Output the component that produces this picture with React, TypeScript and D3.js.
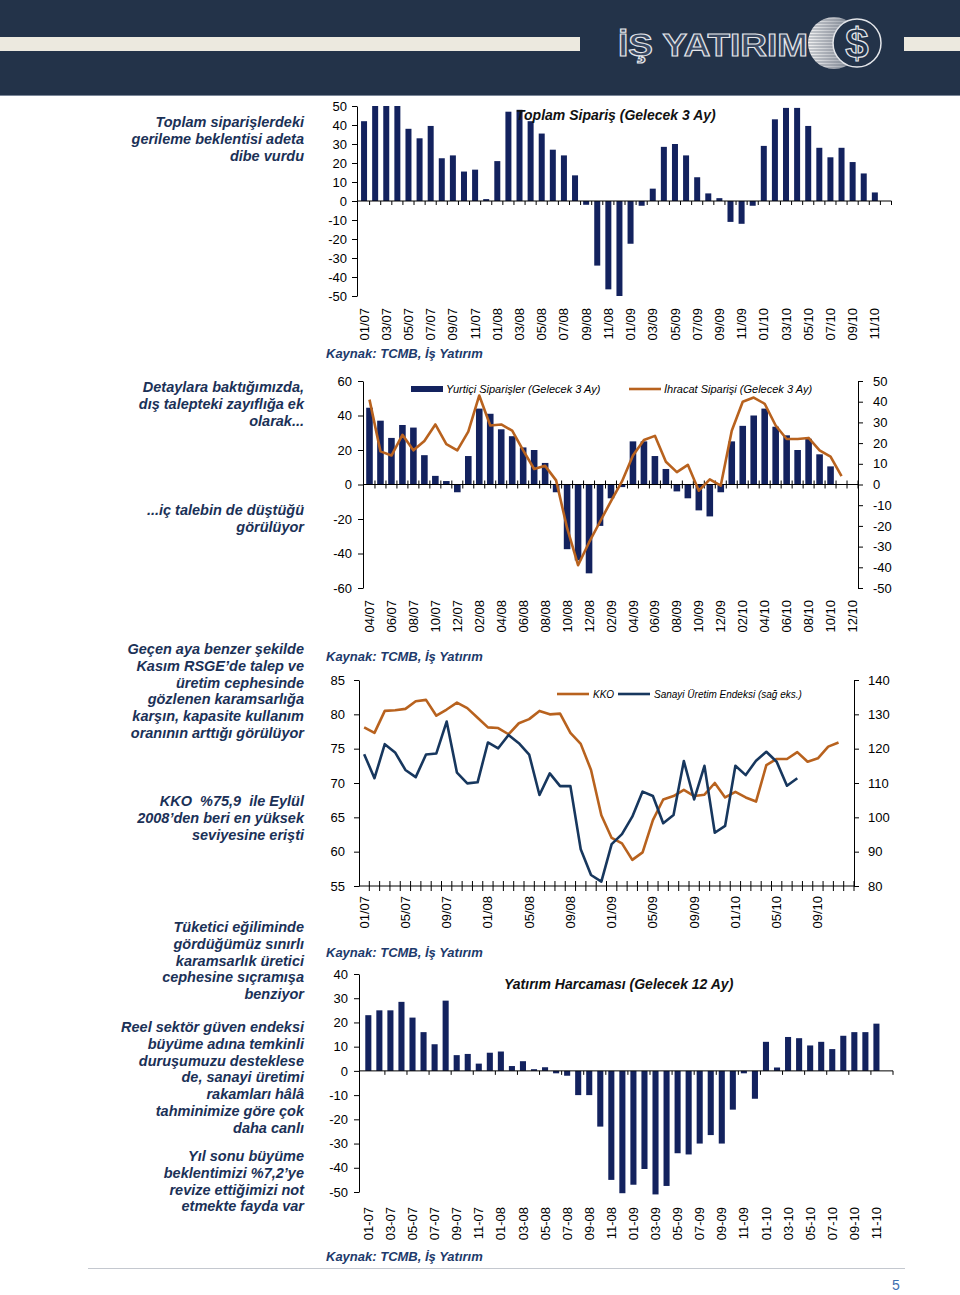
import React, { useRef, useEffect } from 'react';
import * as d3 from 'd3';

const FONT = 'Liberation Sans, Arial, Helvetica, sans-serif';

// month labels like 01/07 ... 12/10
function monthList(year: number, month: number, count: number, sep: string) {
  const out: string[] = [];
  for (let i = 0; i < count; i++) {
    const m = ((month - 1 + i) % 12) + 1;
    const y = year + Math.floor((month - 1 + i) / 12);
    out.push(`${String(m).padStart(2, '0')}${sep}${String(y % 100).padStart(2, '0')}`);
  }
  return out;
}

// Chart 1 - Toplam Sipariş (Gelecek 3 Ay)
const toplamMonths = monthList(2007, 1, 48, '/');
const toplamSiparis = [
  42, 50, 50, 50, 38, 33, 39.5, 22.5, 24, 15.5, 16.5, 1,
  21, 47, 48, 42, 35.5, 27, 24, 13.5, -2, -34, -46.5, -50.5,
  -22.5, -2.5, 6.5, 28.5, 30, 24, 12.5, 4, 1.5, -11, -12, -2.5,
  29, 43, 49, 49, 39.5, 28, 23, 28, 20.5, 14.5, 4.5,
];
const toplamTicks = [50, 40, 30, 20, 10, 0, -10, -20, -30, -40, -50];

// Chart 2 - Yurtiçi / İhracat siparişleri
const detayMonths = monthList(2007, 4, 45, '/');
const yurticiSiparis = [
  44.5, 37, 27, 34.5, 33, 17, 5, 2, -4.5,
  16.5, 44, 41, 32, 28, 21.5, 20, 12.5, -4.5, -37.5, -44, -51.5,
  -24, -8, -1.5, 25, 25, 16.5, 9, -4, -8, -15, -18.5, -4.5,
  25, 34, 40, 44, 33.5, 28.5, 20, 26.5, 17.5, 10.5,
];
const ihracatSiparis = [
  41, 16, 14, 24, 16.5, 21, 29, 19.5, 16.5,
  25.5, 43, 28.5, 29, 26, 16.5, 7.5, 9, 2, -21, -39, -28,
  -18, -8, 1.5, 14, 21.5, 23.5, 11, 6, 9.5, -3, 2.5, -0.5,
  26, 40, 42, 39, 28.5, 22, 22, 22.5, 16.5, 13.5, 4,
];
const yurticiTicks = [60, 40, 20, 0, -20, -40, -60];
const ihracatTicks = [50, 40, 30, 20, 10, 0, -10, -20, -30, -40, -50];

// Chart 3 - KKO & Sanayi Üretim Endeksi
const kkoMonths = monthList(2007, 1, 48, '/');
const kko = [
  78.1, 77.3, 80.5, 80.6, 80.8, 81.9, 82.1, 79.8, 80.7, 81.7, 80.9, 79.5,
  78.1, 78.0, 77.1, 78.7, 79.3, 80.5, 80.0, 80.1, 77.3, 75.7, 71.9, 65.3,
  62, 61.2, 58.8, 59.9, 64.6, 67.6, 68.1, 69, 68.1, 68.3, 70, 67.9,
  68.7, 67.9, 67.3, 72.6, 73.5, 73.5, 74.5, 73.1, 73.6, 75.3, 75.9,
];
const sanayiUretim = [
  118.4, 111.4, 121.3, 118.9, 113.8, 111.7, 118.3, 118.6, 127.9, 113, 109.9, 110.2,
  121.8, 120.1, 124, 121.6, 118.3, 106.5, 112.8, 109.1, 109.1, 90.7, 83.2, 81.3,
  92.2, 95.1, 100.2, 107.5, 106.2, 98.3, 100.7, 116.4, 105.2, 115, 95.5, 97.5,
  115, 112.3, 116.5, 119.1, 116.2, 109.2, 111.4,
];
const kkoTicks = [85, 80, 75, 70, 65, 60, 55];
const uretimTicks = [140, 130, 120, 110, 100, 90, 80];

// Chart 4 - Yatırım Harcaması (Gelecek 12 Ay)
const yatirimMonths = monthList(2007, 1, 48, '-');
const yatirimHarcamasi = [
  23, 25, 25, 28.5, 22, 16, 11, 29, 6.5, 7, 3, 7.5,
  8, 2, 4, 0.7, 1.5, -1, -2, -10, -10, -23, -45, -50.5,
  -47, -40.5, -51, -47.5, -34, -34.5, -30, -26.5, -30, -16, -1, -11.5,
  12, 1.4, 14, 13.5, 10.5, 12, 9, 14.5, 16, 16, 19.5,
];
const yatirimTicks = [40, 30, 20, 10, 0, -10, -20, -30, -40, -50];

// side notes
const notes = [
  ['Toplam siparişlerdeki', 'gerileme beklentisi adeta', 'dibe vurdu'],
  ['Detaylara baktığımızda,', 'dış talepteki zayıflığa ek', 'olarak...'],
  ['...iç talebin de düştüğü', 'görülüyor'],
  ['Geçen aya benzer şekilde', 'Kasım RSGE’de talep ve', 'üretim cephesinde', 'gözlenen karamsarlığa', 'karşın, kapasite kullanım', 'oranının arttığı görülüyor'],
  ['KKO  %75,9  ile Eylül', '2008’den beri en yüksek', 'seviyesine erişti'],
  ['Tüketici eğiliminde', 'gördüğümüz sınırlı', 'karamsarlık üretici', 'cephesine sıçramışa', 'benziyor'],
  ['Reel sektör güven endeksi', 'büyüme adına temkinli', 'duruşumuzu desteklese', 'de, sanayi üretimi', 'rakamları hâlâ', 'tahminimize göre çok', 'daha canlı'],
  ['Yıl sonu büyüme', 'beklentimizi %7,2’ye', 'revize ettiğimizi not', 'etmekte fayda var'],
];
const noteTop = [127, 392, 515, 654, 806, 932, 1032, 1161];

const BAR = '#13225e';
const ORANGE = '#b8621e';
const NAVY_LINE = '#17375e';
const NOTE = '#1b3157';
const SOURCE = '#1d3a6b';

const App: React.FC = () => {
  const svgRef = useRef<SVGSVGElement>(null);

  useEffect(() => {
    if (!svgRef.current) return;
    const svg = d3.select(svgRef.current);
    svg.selectAll('*').remove();

    // ---------- header ----------
    const defs = svg.append('defs');
    const grad = defs.append('linearGradient').attr('id', 'coin').attr('x1', 0).attr('x2', 1);
    grad.append('stop').attr('offset', '0%').attr('stop-color', '#f4f4f4');
    grad.append('stop').attr('offset', '100%').attr('stop-color', '#7d8593');
    defs.append('clipPath').attr('id', 'coinClip')
      .append('circle').attr('cx', 834).attr('cy', 43).attr('r', 26);

    svg.append('rect').attr('x', 0).attr('y', 0).attr('width', 960).attr('height', 95).attr('fill', '#233349');
    svg.append('line').attr('x1', 0).attr('x2', 960).attr('y1', 95.5).attr('y2', 95.5).attr('stroke', '#7a8698');
    svg.append('rect').attr('x', 0).attr('y', 37).attr('width', 580).attr('height', 14).attr('fill', '#ece9df');
    svg.append('rect').attr('x', 904).attr('y', 37).attr('width', 56).attr('height', 14).attr('fill', '#ece9df');
    svg.append('text')
      .attr('x', 618).attr('y', 56)
      .attr('font-family', FONT).attr('font-weight', 'bold').attr('font-size', 31)
      .attr('textLength', 190).attr('lengthAdjust', 'spacingAndGlyphs')
      .attr('fill', '#3a4961').attr('stroke', '#e4e6ea').attr('stroke-width', 1.1)
      .text('İŞ YATIRIM');
    svg.append('circle').attr('cx', 834).attr('cy', 43).attr('r', 26).attr('fill', 'url(#coin)');
    const stripes = svg.append('g').attr('clip-path', 'url(#coinClip)');
    stripes.selectAll('line').data(d3.range(17, 70, 3)).enter().append('line')
      .attr('x1', 806).attr('x2', 862).attr('y1', d => d).attr('y2', d => d)
      .attr('stroke', '#4f5968').attr('stroke-width', 1).attr('opacity', 0.55);
    svg.append('circle').attr('cx', 857).attr('cy', 43).attr('r', 24)
      .attr('fill', '#233349').attr('stroke', '#e4e6ea').attr('stroke-width', 1.5);
    svg.append('text').attr('x', 857).attr('y', 58).attr('text-anchor', 'middle')
      .attr('font-family', FONT).attr('font-weight', 'bold').attr('font-size', 42)
      .attr('fill', 'none').attr('stroke', '#e4e6ea').attr('stroke-width', 1.2).text('$');

    // ---------- side notes ----------
    notes.forEach((lines, i) => {
      svg.append('g').selectAll('text').data(lines).enter().append('text')
        .attr('x', 304).attr('y', (d, j) => noteTop[i] + j * 16.8)
        .attr('text-anchor', 'end')
        .attr('font-family', FONT).attr('font-size', 14.5)
        .attr('font-weight', 'bold').attr('font-style', 'italic')
        .style('white-space', 'pre')
        .attr('fill', NOTE).text(d => d);
    });

    // ---------- helpers ----------
    const styleAxis = (ax: any) => {
      ax.attr('font-family', FONT).attr('font-size', 13);
      ax.select('.domain').attr('stroke', '#000');
      ax.selectAll('.tick line').attr('stroke', '#000');
      ax.selectAll('.tick text').attr('fill', '#000');
    };
    const yAxis = (scale: any, x: number, ticks: number[], side: 'left' | 'right', pad: number) => {
      const axis = (side === 'left' ? d3.axisLeft(scale) : d3.axisRight(scale))
        .tickValues(ticks).tickFormat((d: any) => String(d))
        .tickSize(5).tickSizeOuter(0).tickPadding(pad);
      const ax = svg.append('g').attr('transform', `translate(${x},0)`).call(axis as any);
      styleAxis(ax);
    };
    const xLabels = (x: d3.ScaleBand<string>, cats: string[], every: number, top: number) => {
      svg.append('g').selectAll('text')
        .data(cats.filter((d, i) => i % every === 0))
        .enter().append('text')
        .attr('transform', d => `translate(${(x(d) as number) + x.bandwidth() / 2},${top}) rotate(-90)`)
        .attr('text-anchor', 'end').attr('dy', '0.35em')
        .attr('font-family', FONT).attr('font-size', 13).attr('fill', '#000')
        .text(d => d);
    };
    const zeroLine = (x: d3.ScaleBand<string>, x0: number, y: number, every: number, up: number, down: number) => {
      const [r0, r1] = x.range();
      svg.append('line').attr('x1', x0).attr('x2', r1).attr('y1', y).attr('y2', y).attr('stroke', '#000');
      const n = x.domain().length;
      svg.append('g').selectAll('line')
        .data(d3.range(every, n + 1, every))
        .enter().append('line')
        .attr('x1', j => r0 + x.step() * j).attr('x2', j => r0 + x.step() * j)
        .attr('y1', y - up).attr('y2', y + down)
        .attr('stroke', '#000');
    };
    const bars = (x: d3.ScaleBand<string>, y: d3.ScaleLinear<number, number>, cats: string[], vals: number[]) => {
      svg.append('g').selectAll('rect').data(vals).enter().append('rect')
        .attr('x', (d, i) => x(cats[i]) as number)
        .attr('width', x.bandwidth())
        .attr('y', d => y(Math.max(0, d)))
        .attr('height', d => Math.abs(y(d) - y(0)))
        .attr('fill', BAR);
    };
    const line = (x: d3.ScaleBand<string>, y: d3.ScaleLinear<number, number>, cats: string[], vals: number[], color: string) => {
      const gen = d3.line<number>()
        .x((d, i) => (x(cats[i]) as number) + x.bandwidth() / 2)
        .y(d => y(d));
      svg.append('path').datum(vals).attr('d', gen)
        .attr('fill', 'none').attr('stroke', color).attr('stroke-width', 2.6)
        .attr('stroke-linejoin', 'round');
    };
    const source = (y: number) => {
      svg.append('text').attr('x', 326).attr('y', y)
        .attr('font-family', FONT).attr('font-size', 13)
        .attr('font-weight', 'bold').attr('font-style', 'italic')
        .attr('fill', SOURCE).text('Kaynak: TCMB, İş Yatırım');
    };
    const title = (x: number, y: number, t: string) => {
      svg.append('text').attr('x', x).attr('y', y)
        .attr('font-family', FONT).attr('font-size', 14)
        .attr('font-weight', 'bold').attr('font-style', 'italic')
        .attr('fill', '#111').text(t);
    };

    // ---------- chart 1 ----------
    const x1 = d3.scaleBand().domain(toplamMonths).range([358.5, 891.5]).paddingInner(0.46).paddingOuter(0.23);
    const y1 = d3.scaleLinear().domain([-50, 50]).range([296, 106]).clamp(true);
    bars(x1, y1, toplamMonths, toplamSiparis);
    zeroLine(x1, 357, y1(0), 1, 0, 4);
    yAxis(y1, 357, toplamTicks, 'left', 5);
    xLabels(x1, toplamMonths, 2, 308);
    title(516, 120, 'Toplam Sipariş (Gelecek 3 Ay)');
    source(358);

    // ---------- chart 2 ----------
    const x2 = d3.scaleBand().domain(detayMonths).range([364, 858]).paddingInner(0.4).paddingOuter(0.2);
    const y2 = d3.scaleLinear().domain([-60, 60]).range([588, 381]);
    const y2r = d3.scaleLinear().domain([-50, 50]).range([588, 381]);
    bars(x2, y2, detayMonths, yurticiSiparis);
    zeroLine(x2, 363, y2(0), 1, 4, 4);
    line(x2, y2r, detayMonths, ihracatSiparis, ORANGE);
    yAxis(y2, 363, yurticiTicks, 'left', 6);
    yAxis(y2r, 858, ihracatTicks, 'right', 10);
    xLabels(x2, detayMonths, 2, 600);
    svg.append('rect').attr('x', 411).attr('y', 386).attr('width', 32).attr('height', 6).attr('fill', BAR);
    svg.append('text').attr('x', 446).attr('y', 393).attr('font-family', FONT).attr('font-size', 11)
      .attr('font-style', 'italic').attr('fill', '#000').text('Yurtiçi Siparişler (Gelecek 3 Ay)');
    svg.append('line').attr('x1', 629).attr('x2', 661).attr('y1', 389).attr('y2', 389)
      .attr('stroke', ORANGE).attr('stroke-width', 2.6);
    svg.append('text').attr('x', 664).attr('y', 393).attr('font-family', FONT).attr('font-size', 11)
      .attr('font-style', 'italic').attr('fill', '#000').text('İhracat Siparişi (Gelecek 3 Ay)');
    source(661);

    // ---------- chart 3 ----------
    const x3 = d3.scaleBand().domain(kkoMonths).range([359, 854]);
    const y3 = d3.scaleLinear().domain([55, 85]).range([886, 680]);
    const y3r = d3.scaleLinear().domain([80, 140]).range([886, 680]);
    line(x3, y3, kkoMonths, kko, ORANGE);
    line(x3, y3r, kkoMonths, sanayiUretim, NAVY_LINE);
    zeroLine(x3, 359, 886, 1, 5, 5);
    yAxis(y3, 359, kkoTicks, 'left', 9);
    yAxis(y3r, 854, uretimTicks, 'right', 9);
    xLabels(x3, kkoMonths, 4, 896);
    svg.append('line').attr('x1', 557).attr('x2', 589).attr('y1', 694).attr('y2', 694)
      .attr('stroke', ORANGE).attr('stroke-width', 2.6);
    svg.append('text').attr('x', 593).attr('y', 698).attr('font-family', FONT).attr('font-size', 10)
      .attr('font-style', 'italic').attr('fill', '#000').text('KKO');
    svg.append('line').attr('x1', 618).attr('x2', 650).attr('y1', 694).attr('y2', 694)
      .attr('stroke', NAVY_LINE).attr('stroke-width', 2.6);
    svg.append('text').attr('x', 654).attr('y', 698).attr('font-family', FONT).attr('font-size', 10)
      .attr('font-style', 'italic').attr('fill', '#000').text('Sanayi Üretim Endeksi (sağ eks.)');
    source(957);

    // ---------- chart 4 ----------
    const x4 = d3.scaleBand().domain(yatirimMonths).range([362.8, 893]).paddingInner(0.45).paddingOuter(0.225);
    const y4 = d3.scaleLinear().domain([-50, 40]).range([1192, 974]);
    bars(x4, y4, yatirimMonths, yatirimHarcamasi);
    zeroLine(x4, 359, y4(0), 2, 0, 4);
    yAxis(y4, 359, yatirimTicks, 'left', 6);
    xLabels(x4, yatirimMonths, 2, 1207);
    title(504, 989, 'Yatırım Harcaması (Gelecek 12 Ay)');
    source(1261);

    // ---------- footer ----------
    svg.append('line').attr('x1', 88).attr('x2', 905).attr('y1', 1268.5).attr('y2', 1268.5)
      .attr('stroke', '#c4c8cf');
    svg.append('text').attr('x', 892).attr('y', 1290)
      .attr('font-family', FONT).attr('font-size', 14).attr('fill', '#3d6fb0').text('5');
  }, []);

  return (
    <svg
      ref={svgRef}
      width={960}
      height={1295}
      style={{ position: 'absolute', left: 0, top: 0, background: '#fff' }}
    />
  );
};

export default App;
